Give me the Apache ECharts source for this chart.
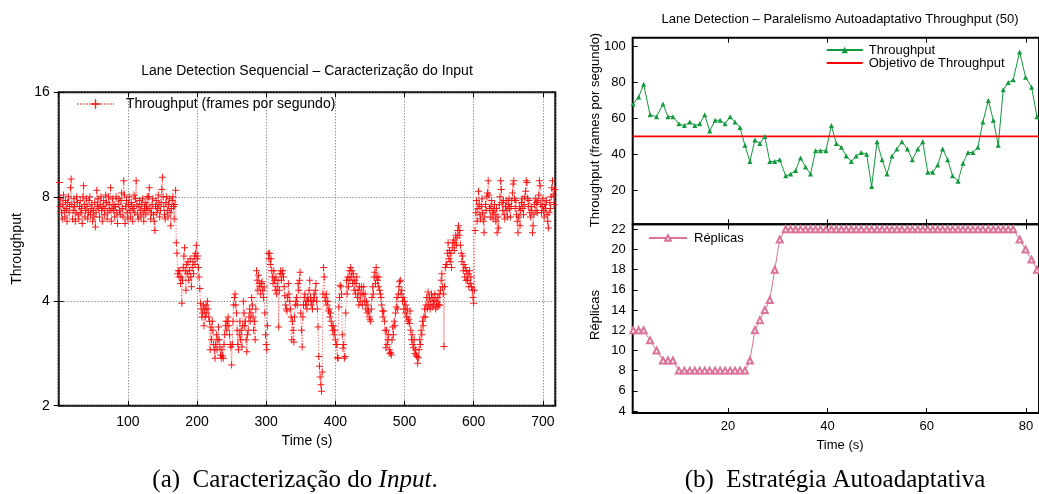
<!DOCTYPE html>
<html><head><meta charset="utf-8">
<script src="https://cdn.jsdelivr.net/npm/echarts@6/dist/echarts.min.js"></script>
<style>html,body{margin:0;padding:0;background:#fff}#c{width:1039px;height:494px}</style>
</head><body><div id="c"></div>
<script>
// ---- Left chart: sequential throughput (one sample per second, starting at t=1) ----
const seqStartTime = 1;
const seqThroughput = [
8.8,7.5,7.9,7.2,6.9,7.6,8.1,7.3,7.0,7.8,
7.4,6.8,7.7,8.0,7.2,7.5,8.5,9.0,7.6,6.9,
7.3,7.9,7.5,6.8,7.2,8.0,7.7,7.1,6.9,7.5,
7.8,7.2,7.4,6.7,8.0,8.6,7.6,7.0,7.3,7.9,
7.5,6.9,7.2,7.8,8.0,7.1,7.4,7.6,6.8,7.3,
7.0,7.7,6.55,7.2,8.35,7.5,7.9,7.4,7.0,7.6,
8.0,7.3,6.8,7.5,7.8,7.1,7.4,8.1,7.7,6.9,
7.2,8.0,7.6,7.3,8.5,6.8,7.4,7.9,7.3,7.6,
7.0,7.5,8.0,7.2,6.7,7.6,7.9,7.3,7.1,7.8,
8.2,7.4,7.0,8.9,8.1,6.7,7.5,7.8,7.2,6.9,
7.6,8.0,7.3,7.0,7.7,7.5,6.8,7.4,8.1,7.2,
7.9,8.9,7.6,7.1,6.9,7.5,7.8,7.3,7.0,7.6,
7.9,7.2,6.8,7.4,7.7,7.1,7.5,8.0,7.3,8.0,
8.5,7.4,6.9,7.2,7.6,7.9,7.1,6.8,6.4,7.5,
7.8,7.2,7.4,8.1,7.6,7.0,7.3,7.7,8.4,9.1,
8.0,7.5,7.1,6.9,7.7,8.0,7.3,7.0,7.6,7.9,
7.2,6.6,7.4,7.8,8.0,7.5,6.9,7.6,8.35,5.9,
5.5,4.8,4.9,4.7,4.9,4.5,4.7,3.95,4.6,5.0,
5.4,5.7,4.9,4.3,5.1,4.8,5.2,4.6,4.9,5.3,
4.7,4.4,5.0,5.2,4.8,5.4,5.1,5.5,5.8,5.3,
5.4,5.0,4.7,4.35,3.95,3.8,3.6,3.7,3.9,3.4,
3.8,3.6,3.9,3.7,4.0,3.8,3.6,3.5,2.9,3.37,
3.1,3.5,3.3,3.0,2.9,2.74,3.0,3.2,2.9,3.1,
3.37,3.1,2.95,2.8,2.74,2.9,2.78,2.74,3.0,3.2,
3.4,3.5,3.3,3.5,3.6,3.4,3.2,3.0,2.95,2.62,
3.0,3.5,3.9,4.1,4.2,3.9,3.7,3.3,3.0,2.9,
3.2,3.5,3.1,3.3,2.95,3.4,4.0,3.7,3.4,3.5,
3.1,2.86,3.2,3.3,3.6,3.8,3.5,3.7,4.1,3.9,
3.6,3.3,3.5,3.1,3.8,4.9,4.6,4.3,4.75,4.5,
4.4,4.2,4.5,4.55,4.3,4.1,4.4,3.7,3.2,3.0,
2.9,3.4,5.5,5.3,5.5,5.1,5.3,4.9,4.7,4.5,
4.9,4.6,4.3,4.7,4.2,4.4,4.6,3.37,4.3,4.8,
4.9,4.6,4.8,4.9,4.7,4.4,4.15,3.9,3.8,3.75,
4.1,4.5,4.2,4.0,3.8,3.6,3.1,3.5,3.3,3.05,
3.6,3.9,4.0,4.1,3.9,4.5,4.3,4.6,4.85,3.7,
3.3,2.95,3.6,3.9,4.1,4.2,3.9,4.0,3.8,4.1,
4.0,4.3,4.6,4.1,3.9,4.0,3.8,4.0,4.2,4.1,
4.3,4.5,4.0,3.8,3.37,2.77,2.6,2.42,2.3,2.2,
2.5,4.2,5.0,4.7,4.1,4.0,4.2,3.9,4.0,3.75,
3.8,3.6,3.7,3.5,3.4,3.3,3.4,3.2,3.3,3.1,
3.0,3.0,2.75,2.74,3.85,4.1,4.45,4.4,4.2,3.2,
2.93,3.0,2.74,2.77,3.7,4.6,4.2,4.7,4.4,4.9,
4.6,5.0,4.7,4.9,4.5,4.8,4.3,4.6,4.2,4.5,
4.7,4.1,4.3,3.9,4.4,4.0,4.2,4.4,3.9,4.2,
4.4,4.0,4.2,3.8,4.0,3.7,3.9,3.75,3.6,3.55,
3.5,3.8,4.1,4.4,4.2,4.7,4.85,4.5,5.0,4.7,
4.6,4.4,4.7,4.3,4.2,4.1,3.9,3.75,3.6,3.75,
3.5,3.3,2.94,3.3,3.0,3.1,3.2,2.9,2.83,2.85,
2.8,3.1,3.37,3.2,3.5,3.4,3.7,3.85,4.1,3.8,
4.2,4.4,4.55,4.6,4.2,4.3,4.0,4.1,3.8,4.0,
3.7,3.9,3.6,3.8,3.5,3.55,3.45,3.75,3.3,3.1,
3.2,3.0,2.94,3.1,2.83,2.9,2.8,2.77,2.65,2.75,
2.9,3.1,3.0,3.3,3.2,3.5,3.4,3.6,3.8,3.6,
3.9,4.1,3.8,4.25,3.9,4.1,3.8,4.0,4.2,3.85,
4.1,3.9,4.0,4.2,3.8,4.0,3.85,4.1,3.9,4.2,
3.9,4.3,4.6,4.8,4.4,4.2,2.96,4.4,5.0,5.1,
5.1,5.5,5.9,5.3,5.6,5.2,5.5,5.0,5.7,5.9,
6.0,5.6,5.9,6.2,5.8,6.1,6.4,6.6,6.2,6.4,
5.8,5.5,5.2,5.4,4.9,5.1,4.7,5.0,4.6,4.9,
4.6,4.8,4.4,4.9,4.5,4.7,4.4,4.3,4.1,3.95,
4.3,6.4,7.2,7.8,6.8,7.4,8.3,7.6,7.1,6.9,
7.5,7.9,7.2,6.8,6.3,7.0,7.6,7.3,8.0,8.2,
8.9,8.1,7.4,7.0,7.5,7.8,7.2,6.9,7.3,7.6,
7.1,6.8,7.4,6.3,7.0,6.5,7.6,8.0,8.9,8.4,
7.7,7.3,7.8,7.1,6.9,7.5,7.8,7.3,7.0,7.6,
7.9,7.4,7.0,7.5,7.8,8.2,8.7,8.9,7.9,7.4,
7.8,7.1,6.8,6.3,7.0,7.5,6.6,7.3,7.7,7.9,
7.4,7.1,7.6,8.0,8.3,8.9,8.8,7.9,7.5,7.8,
7.2,7.0,7.5,7.3,6.3,6.6,7.1,7.6,7.9,7.3,
7.7,7.2,7.8,8.1,8.9,8.6,7.6,7.2,7.5,7.9,
7.3,7.0,7.6,7.4,7.8,7.1,6.8,6.5,7.2,7.7,
7.4,8.0,8.5,8.9,8.1,7.6,8.4
];
const seqXMin = 0, seqXMax = 718;
const seqXTicks = [100,200,300,400,500,600,700];
const seqYMin = 2, seqYMax = 16;
const seqYTicks = [2,4,8,16];

// ---- Right chart: self-adaptive parallelism ----
const adaptTimes = [
0.9,2.0,3.0,4.3,5.6,6.9,7.9,8.9,10.1,11.2,
12.3,13.3,14.3,15.3,16.3,17.4,18.4,19.4,20.4,21.4,
22.4,23.4,24.4,25.4,26.4,27.4,28.4,29.4,30.4,31.6,
32.6,33.6,34.6,35.6,36.6,37.6,38.6,39.7,40.8,41.8,
42.8,43.8,44.8,45.8,46.8,47.9,48.9,50.0,51.0,52.0,
53.0,54.0,55.0,56.1,57.1,58.2,59.2,60.2,61.2,62.2,
63.2,64.2,65.2,66.3,67.3,68.3,69.3,70.3,71.3,72.4,
73.4,74.4,75.4,76.4,77.4,78.7,79.9,81.1,82.2
];
const adaptThroughput = [
68,72,79,62,61,68,61,61,57,56,
58,56,57,62,53,59,59,57,61,58,
55,45,36,48,46,50,36,36,37,28,
29,31,38,33,29,42,42,42,56,46,
44,39,36,39,41,40,22,47,37,29,
39,43,47,43,37,43,47,30,30,34,
43,37,28,25,35,41,41,44,58,70,
59,45,76,80,81.5,97,83,77.4,61
];
const adaptReplicas = [
12,12,12,11,10,9,9,9,8,8,
8,8,8,8,8,8,8,8,8,8,
8,8,9,12,13,14,15,18,21,22,
22,22,22,22,22,22,22,22,22,22,
22,22,22,22,22,22,22,22,22,22,
22,22,22,22,22,22,22,22,22,22,
22,22,22,22,22,22,22,22,22,22,
22,22,22,22,22,21,20,19,18
];
const throughputGoal = 50;
const adaptXMin = 0.8, adaptXMax = 82.6;
const adaptXTicks = [20,40,60,80];
const adaptTopYMin = 1, adaptTopYMax = 105;
const adaptTopYTicks = [20,40,60,80,100];
const adaptBotYMin = 3.8, adaptBotYMax = 22.5;
const adaptBotYTicks = [4,6,8,10,12,14,16,18,20,22];

const FONT = 'Liberation Sans';
const plusSym = 'path://M3,0H4V3H7V4H4V7H3V4H0V3H3Z';
const tickStyle = {show:true, inside:true, length:5, lineStyle:{color:'#000', width:1}};
const noLine = {show:false};

const chart = echarts.init(document.getElementById('c'), null, {renderer:'canvas'});
const option = {
  animation:false,
  backgroundColor:'#fff',
  textStyle:{fontFamily:FONT, color:'#000'},
  grid:[
    {left:58.7, top:92.3, width:496.6, height:313.4, show:true, borderColor:'#000', borderWidth:2},
    {left:632.7, top:37.7, width:407.4, height:186.6, show:true, borderColor:'#000', borderWidth:2},
    {left:632.7, top:224.3, width:407.4, height:188.7, show:true, borderColor:'#000', borderWidth:2}
  ],
  xAxis:[
    {gridIndex:0, type:'value', position:'bottom', min:seqXMin, max:seqXMax, interval:100,
     axisLine:noLine, axisTick:tickStyle,
     axisLabel:{margin:9, fontSize:14, color:'#000', fontFamily:FONT,
       formatter:v=>seqXTicks.includes(v)?String(v):''},
     splitLine:{show:true, lineStyle:{color:'#666', type:[1,2], width:1}}},
    {gridIndex:0, type:'value', position:'top', min:seqXMin, max:seqXMax, interval:100,
     axisLine:noLine, axisTick:tickStyle, axisLabel:{show:false}, splitLine:{show:false}},
    {gridIndex:1, type:'value', position:'bottom', min:adaptXMin, max:adaptXMax,
     axisLine:noLine, axisTick:Object.assign({customValues:adaptXTicks}, tickStyle),
     axisLabel:{show:false}, splitLine:{show:false}},
    {gridIndex:1, type:'value', position:'top', min:adaptXMin, max:adaptXMax,
     axisLine:noLine, axisTick:Object.assign({customValues:adaptXTicks}, tickStyle),
     axisLabel:{show:false}, splitLine:{show:false}},
    {gridIndex:2, type:'value', position:'bottom', min:adaptXMin, max:adaptXMax,
     axisLine:noLine, axisTick:Object.assign({customValues:adaptXTicks}, tickStyle),
     axisLabel:{customValues:adaptXTicks, margin:7, fontSize:13, color:'#000', fontFamily:FONT},
     splitLine:{show:false}},
    {gridIndex:2, type:'value', position:'top', min:adaptXMin, max:adaptXMax,
     axisLine:noLine, axisTick:Object.assign({customValues:adaptXTicks}, tickStyle),
     axisLabel:{show:false}, splitLine:{show:false}}
  ],
  yAxis:[
    {gridIndex:0, type:'log', logBase:2, min:seqYMin, max:seqYMax, position:'left',
     axisLine:noLine, axisTick:tickStyle,
     axisLabel:{margin:9, fontSize:14, color:'#000', fontFamily:FONT,
       formatter:v=>seqYTicks.includes(Math.round(v))?String(Math.round(v)):''},
     splitLine:{show:true, lineStyle:{color:'#666', type:[1,2], width:1}}},
    {gridIndex:0, type:'log', logBase:2, min:seqYMin, max:seqYMax, position:'right',
     axisLine:noLine, axisTick:tickStyle, axisLabel:{show:false}, splitLine:{show:false}},
    {gridIndex:1, type:'value', min:adaptTopYMin, max:adaptTopYMax, position:'left',
     axisLine:noLine, axisTick:Object.assign({customValues:adaptTopYTicks}, tickStyle),
     axisLabel:{customValues:adaptTopYTicks, margin:7, fontSize:13, color:'#000', fontFamily:FONT},
     splitLine:{show:false}},
    {gridIndex:2, type:'value', min:adaptBotYMin, max:adaptBotYMax, position:'left',
     axisLine:noLine, axisTick:Object.assign({customValues:adaptBotYTicks}, tickStyle),
     axisLabel:{customValues:adaptBotYTicks, margin:7, fontSize:13, color:'#000', fontFamily:FONT},
     splitLine:{show:false}}
  ],
  legend:[
    {data:['Throughput (frames por segundo)'], left:76, top:97, padding:0,
     itemWidth:37, itemHeight:12, textStyle:{fontSize:14, color:'#000', fontFamily:FONT, padding:[0,0,0,7]}},
    {data:[{name:'Throughput'},{name:'Objetivo de Throughput', itemStyle:{opacity:0}}], orient:'vertical', left:825.7, top:43.5, padding:0,
     itemWidth:36, itemHeight:8, itemGap:0,
     textStyle:{fontSize:13, lineHeight:12.3, color:'#000', fontFamily:FONT, padding:[0,0,0,1]}},
    {data:['Réplicas'], left:648, top:231.5, padding:0, itemWidth:38, itemHeight:7,
     textStyle:{fontSize:13, color:'#000', fontFamily:FONT, padding:[0,0,0,2]}}
  ],
  series:[
    {name:'Throughput (frames por segundo)', type:'line', xAxisIndex:0, yAxisIndex:0,
     data:seqThroughput.map((v,i)=>[seqStartTime+i, v]),
     symbol:plusSym, symbolSize:7, showAllSymbol:true, sampling:null,
     itemStyle:{color:'#ff0000', opacity:0.9},
     lineStyle:{color:'rgba(255,0,0,0.5)', width:1, type:[1.5,1.5]}},
    {name:'Throughput', type:'line', xAxisIndex:2, yAxisIndex:2,
     data:adaptTimes.map((t,i)=>[t, adaptThroughput[i]]),
     symbol:'triangle', symbolSize:5, showAllSymbol:true,
     itemStyle:{color:'#119a3c'}, lineStyle:{color:'#119a3c', width:1}},
    {name:'Objetivo de Throughput', type:'line', xAxisIndex:2, yAxisIndex:2,
     data:[[adaptXMin, throughputGoal],[adaptXMax, throughputGoal]],
     symbol:'none', itemStyle:{color:'#ff0000'}, lineStyle:{color:'#ff0000', width:1.6}},
    {name:'Réplicas', type:'line', xAxisIndex:4, yAxisIndex:3,
     data:adaptTimes.map((t,i)=>[t, adaptReplicas[i]]),
     symbol:'emptyTriangle', symbolSize:6, showAllSymbol:true,
     itemStyle:{color:'#dc7399', borderWidth:1}, lineStyle:{color:'#dc7399', width:1}}
  ],
  graphic:[
    {type:'text', x:307, y:71, style:{text:'Lane Detection Sequencial \u2013 Caracteriza\u00e7\u00e3o do Input', fontSize:14, fontFamily:FONT, fill:'#000', align:'center', verticalAlign:'middle'}},
    {type:'text', x:840, y:19, style:{text:'Lane Detection \u2013 Paralelismo Autoadaptativo Throughput (50)', fontSize:13, fontFamily:FONT, fill:'#000', align:'center', verticalAlign:'middle'}},
    {type:'text', x:17, y:249, rotation:Math.PI/2, style:{text:'Throughput', fontSize:14, fontFamily:FONT, fill:'#000', align:'center', verticalAlign:'middle'}},
    {type:'text', x:307, y:441, style:{text:'Time (s)', fontSize:14, fontFamily:FONT, fill:'#000', align:'center', verticalAlign:'middle'}},
    {type:'text', x:595, y:130, rotation:Math.PI/2, style:{text:'Throughput (frames por segundo)', fontSize:13, fontFamily:FONT, fill:'#000', align:'center', verticalAlign:'middle'}},
    {type:'text', x:595, y:315, rotation:Math.PI/2, style:{text:'R\u00e9plicas', fontSize:13, fontFamily:FONT, fill:'#000', align:'center', verticalAlign:'middle'}},
    {type:'text', x:840, y:445, style:{text:'Time (s)', fontSize:13, fontFamily:FONT, fill:'#000', align:'center', verticalAlign:'middle'}},
    {type:'text', x:295, y:480, style:{text:'(a)  Caracteriza\u00e7\u00e3o do {i|Input}.', fontSize:25, fontFamily:'Liberation Serif', fill:'#000', align:'center', verticalAlign:'middle',
      rich:{i:{fontSize:25, fontFamily:'Liberation Serif', fontStyle:'italic', fill:'#000'}}}},
    {type:'text', x:835, y:480, style:{text:'(b)  Estrat\u00e9gia Autoadaptativa', fontSize:25, fontFamily:'Liberation Serif', fill:'#000', align:'center', verticalAlign:'middle'}}
  ]
};
chart.setOption(option);
</script>
</body></html>
